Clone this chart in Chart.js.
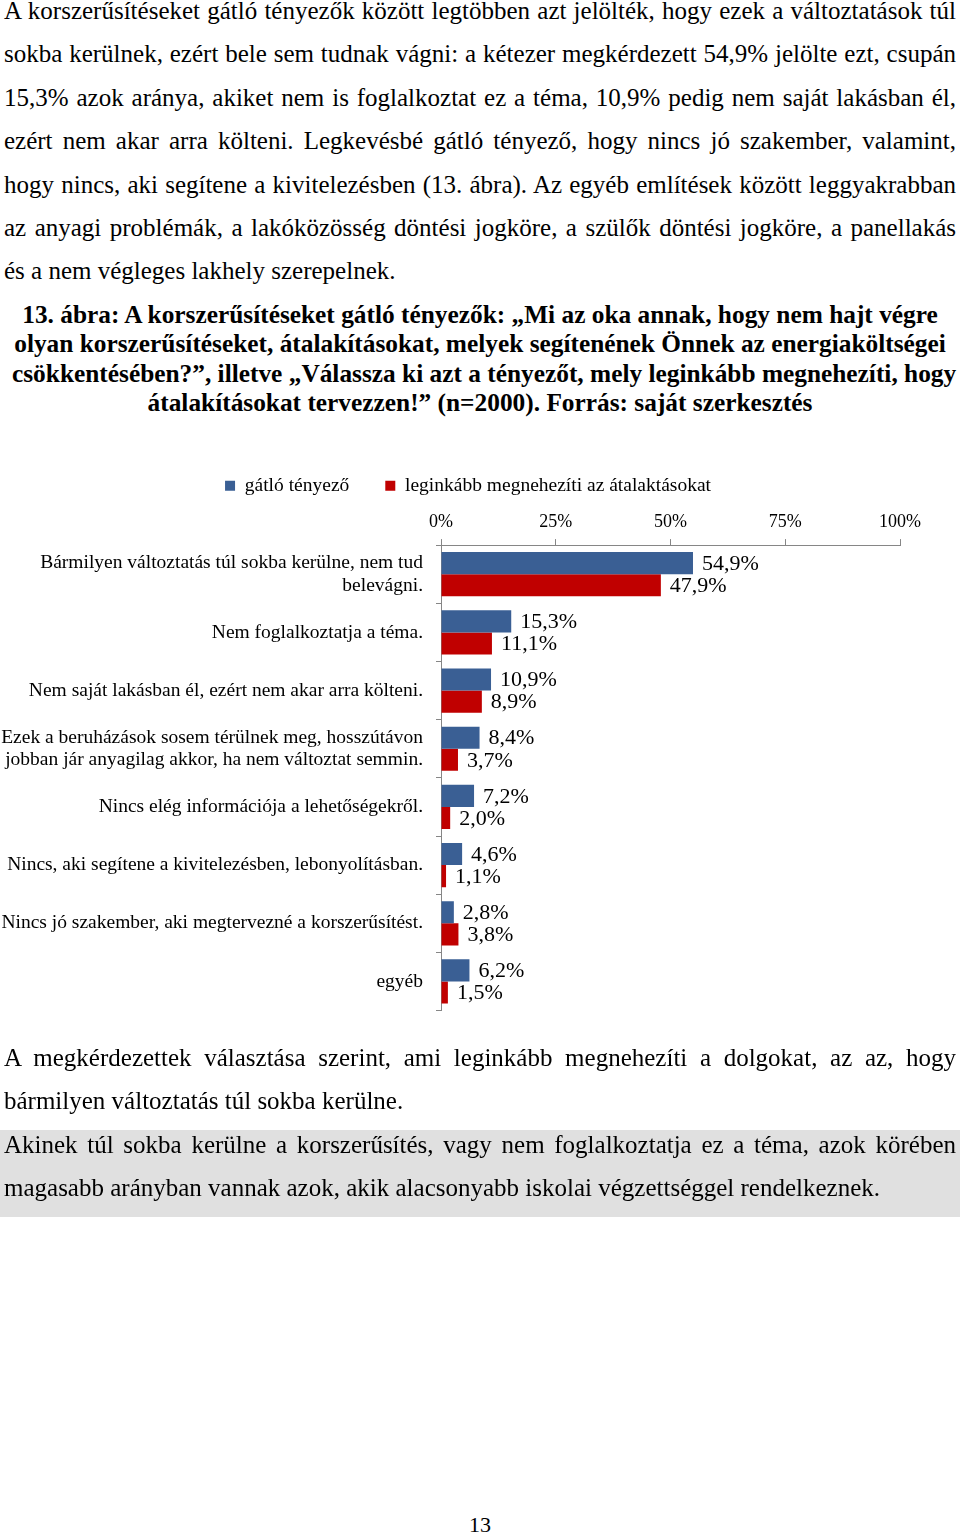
<!DOCTYPE html>
<html lang="hu">
<head>
  <meta charset="UTF-8" />
  <title>13. ábra</title>
  <script src="https://cdn.jsdelivr.net/npm/chart.js@4.4.0/dist/chart.umd.min.js"></script>
  <style>
    html, body {
      margin: 0;
      padding: 0;
      background: #fff;
    }
    body {
      width: 960px;
      height: 1537px;
      position: relative;
      overflow: hidden;
      font-family: 'Liberation Serif', 'Times New Roman', serif;
      color: #000;
    }
    .para {
      position: absolute;
      left: 4px;
      width: 952px;
      font-size: 25px;
      line-height: 43.4px;
    }
    .j { text-align: justify; text-align-last: justify; }
    .caption {
      position: absolute;
      left: 0;
      width: 960px;
      font-size: 26px;
      font-weight: bold;
      line-height: 29.3px;
      text-align: center;
    }
    .caption div { transform: scaleX(0.975); white-space: nowrap; }
    .hl {
      position: absolute;
      left: 0;
      width: 960px;
      top: 1130px;
      height: 87px;
      background: #e0e0e0;
    }
    #barChart {
      position: absolute;
      left: 0;
      top: 440px;
    }
    .pageno {
      position: absolute;
      left: 0;
      width: 960px;
      top: 1512px;
      text-align: center;
      font-size: 22px;
    }
  </style>
</head>
<body>
  <div class="para" style="top:-11px">
    <div class="j">A korszerűsítéseket gátló tényezők között legtöbben azt jelölték, hogy ezek a változtatások túl</div>
    <div class="j">sokba kerülnek, ezért bele sem tudnak vágni: a kétezer megkérdezett 54,9% jelölte ezt, csupán</div>
    <div class="j">15,3% azok aránya, akiket nem is foglalkoztat ez a téma, 10,9% pedig nem saját lakásban él,</div>
    <div class="j">ezért nem akar arra költeni. Legkevésbé gátló tényező, hogy nincs jó szakember, valamint,</div>
    <div class="j">hogy nincs, aki segítene a kivitelezésben (13. ábra). Az egyéb említések között leggyakrabban</div>
    <div class="j">az anyagi problémák, a lakóközösség döntési jogköre, a szülők döntési jogköre, a panellakás</div>
    <div>és a nem végleges lakhely szerepelnek.</div>
  </div>

  <div class="caption" style="top:300px">
    <div>13. ábra: A korszerűsítéseket gátló tényezők: „Mi az oka annak, hogy nem hajt végre</div>
    <div>olyan korszerűsítéseket, átalakításokat, melyek segítenének Önnek az energiaköltségei</div>
    <div>csökkentésében?”, illetve „Válassza ki azt a tényezőt, mely leginkább megnehezíti, hogy</div>
    <div>átalakításokat tervezzen!” (n=2000). Forrás: saját szerkesztés</div>
  </div>

  <canvas id="barChart" width="936" height="606"></canvas>

  <div class="hl"></div>
  <div class="para" style="top:1036px">
    <div class="j">A megkérdezettek választása szerint, ami leginkább megnehezíti a dolgokat, az az, hogy</div>
    <div>bármilyen változtatás túl sokba kerülne.</div>
    <div class="j">Akinek túl sokba kerülne a korszerűsítés, vagy nem foglalkoztatja ez a téma, azok körében</div>
    <div>magasabb arányban vannak azok, akik alacsonyabb iskolai végzettséggel rendelkeznek.</div>
  </div>

  <div class="pageno">13</div>

  <script>
    // category labels (multi-line ones as arrays)
    const categories = [
      ["Bármilyen változtatás túl sokba kerülne, nem tud", "belevágni."],
      "Nem foglalkoztatja a téma.",
      "Nem saját lakásban él, ezért nem akar arra költeni.",
      ["Ezek a beruházások sosem térülnek meg, hosszútávon", "jobban jár anyagilag akkor, ha nem változtat semmin."],
      "Nincs elég információja a lehetőségekről.",
      "Nincs, aki segítene a kivitelezésben, lebonyolításban.",
      "Nincs jó szakember, aki megtervezné a korszerűsítést.",
      "egyéb"
    ];

    const gatloTenyezo = [54.9, 15.3, 10.9, 8.4, 7.2, 4.6, 2.8, 6.2];
    const leginkabbMegnehezit = [47.9, 11.1, 8.9, 3.7, 2.0, 1.1, 3.8, 1.5];

    const axisTicks = [0, 25, 50, 75, 100];

    const serif = "'Liberation Serif', 'Times New Roman', serif";
    const axisGray = "#868686";

    // value labels next to the bar ends, e.g. "54,9%"
    const valueLabels = {
      id: "valueLabels",
      afterDatasetsDraw(chart) {
        const ctx = chart.ctx;
        ctx.save();
        ctx.font = "22px " + serif;
        ctx.fillStyle = "#000";
        ctx.textAlign = "left";
        ctx.textBaseline = "middle";
        chart.data.datasets.forEach((ds, di) => {
          const meta = chart.getDatasetMeta(di);
          meta.data.forEach((bar, i) => {
            const txt = ds.data[i].toFixed(1).replace(".", ",") + "%";
            ctx.fillText(txt, bar.x + 9, bar.y + 1);
          });
        });
        ctx.restore();
      }
    };

    // the legend sits a little right of the page centre in the original
    const legendShift = {
      id: "legendShift",
      afterUpdate(chart) {
        if (chart.legend) {
          chart.legend.left += 18;
          chart.legend.right += 18;
        }
      }
    };

    const ctx = document.getElementById("barChart").getContext("2d");
    new Chart(ctx, {
      type: "bar",
      data: {
        labels: categories,
        datasets: [
          {
            label: "gátló tényező",
            data: gatloTenyezo,
            backgroundColor: "#3a5f94",
            barPercentage: 1.0,
            categoryPercentage: 0.76
          },
          {
            label: "leginkább megnehezíti az átalaktásokat",
            data: leginkabbMegnehezit,
            backgroundColor: "#c00000",
            barPercentage: 1.0,
            categoryPercentage: 0.76
          }
        ]
      },
      options: {
        indexAxis: "y",
        responsive: false,
        animation: false,
        layout: { padding: { left: 0, right: 36, top: 0, bottom: 0 } },
        plugins: {
          legend: {
            position: "top",
            labels: {
              font: { family: serif, size: 19.5 },
              color: "#000",
              boxWidth: 10,
              boxHeight: 10,
              padding: 36
            }
          },
          tooltip: { enabled: false }
        },
        scales: {
          x: {
            position: "top",
            min: 0,
            max: 100,
            afterBuildTicks: (s) => { s.ticks = axisTicks.map(v => ({ value: v })); },
            ticks: {
              font: { family: serif, size: 18 },
              color: "#000",
              padding: 6,
              callback: (v) => v + "%"
            },
            grid: {
              drawOnChartArea: false,
              drawTicks: true,
              tickLength: 6,
              color: axisGray
            },
            border: { color: axisGray }
          },
          y: {
            afterFit: (s) => { s.width = 441; },
            ticks: {
              font: { family: serif, size: 19.5, lineHeight: 1.15 },
              color: "#000",
              padding: 13
            },
            grid: {
              drawOnChartArea: false,
              drawTicks: true,
              tickLength: 5,
              color: axisGray
            },
            border: { color: axisGray }
          }
        }
      },
      plugins: [valueLabels, legendShift]
    });
  </script>
</body>
</html>
